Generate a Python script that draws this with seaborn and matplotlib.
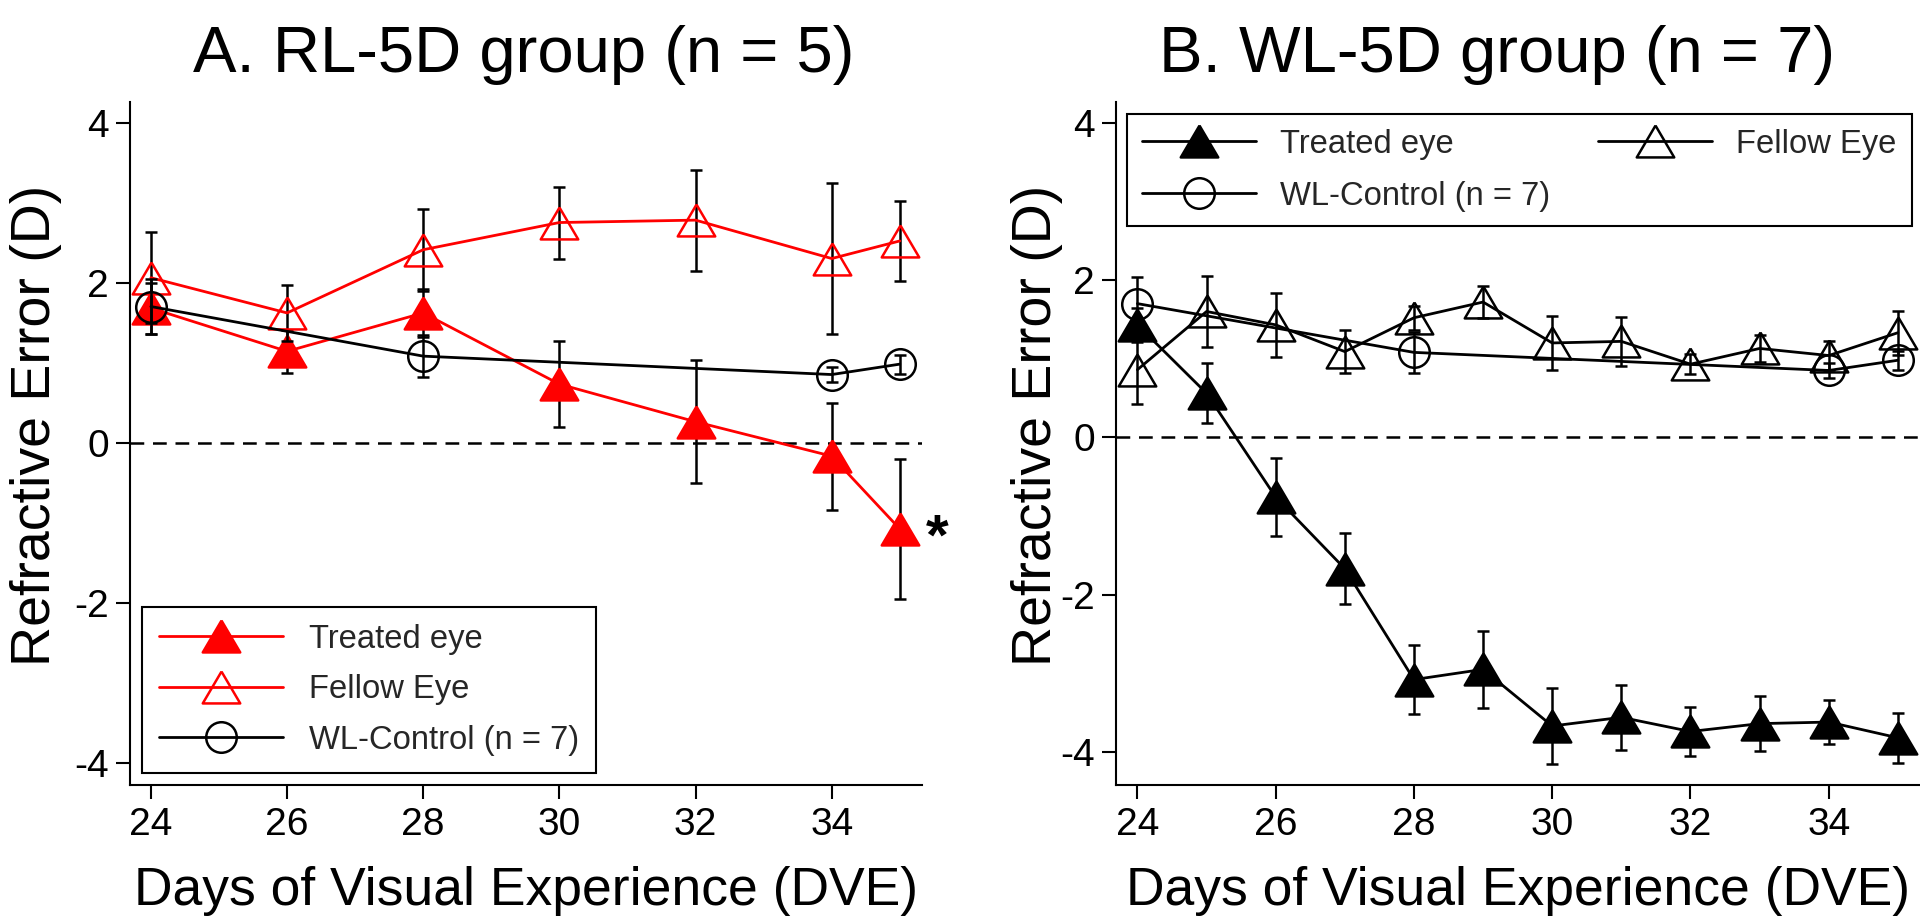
import numpy as np
import pandas as pd
import matplotlib
matplotlib.use("Agg")
import matplotlib.pyplot as plt
from matplotlib.lines import Line2D
import seaborn as sns

# ---------------- data ----------------
days_A = [24, 26, 28, 30, 32, 34, 35]
treated_A = [1.68, 1.14, 1.62, 0.73, 0.26, -0.17, -1.08]
treated_A_err = [0.32, 0.27, 0.30, 0.54, 0.77, 0.67, 0.87]
fellow_A = [2.06, 1.62, 2.41, 2.75, 2.78, 2.30, 2.52]
fellow_A_err = [0.57, 0.35, 0.51, 0.45, 0.63, 0.94, 0.50]

days_ctrl = [24, 28, 34, 35]
ctrl = [1.70, 1.08, 0.85, 0.98]
ctrl_err = [0.34, 0.26, 0.09, 0.12]

days_B = [24, 25, 26, 27, 28, 29, 30, 31, 32, 33, 34, 35]
treated_B = [1.43, 0.56, -0.76, -1.67, -3.08, -2.95, -3.67, -3.56, -3.74, -3.64, -3.62, -3.82]
treated_B_err = [0.22, 0.38, 0.50, 0.45, 0.44, 0.49, 0.48, 0.41, 0.31, 0.35, 0.28, 0.32]
fellow_B = [0.86, 1.60, 1.43, 1.09, 1.52, 1.72, 1.20, 1.22, 0.93, 1.13, 1.04, 1.33]
fellow_B_err = [0.44, 0.45, 0.41, 0.27, 0.15, 0.20, 0.34, 0.31, 0.13, 0.17, 0.18, 0.28]

x_ticks = [24, 26, 28, 30, 32, 34]
y_ticks = [-4, -2, 0, 2, 4]
title_A = "A. RL-5D group (n = 5)"
title_B = "B. WL-5D group (n = 7)"
xlabel = "Days of Visual Experience (DVE)"
ylabel = "Refractive Error (D)"
lab_treated = "Treated eye"
lab_fellow = "Fellow Eye"
lab_ctrl = "WL-Control (n = 7)"

# ---------------- style ----------------
sns.set_style("ticks")
plt.rcParams["font.family"] = ["Liberation Sans", "DejaVu Sans"]
plt.rcParams["axes.unicode_minus"] = False

RED = "#ff0000"
BLK = "#000000"
TRI = [(0, 0.85), (-1, -0.85), (1, -0.85), (0, 0.85)]
MS_T = 27
MS_C = 22
LW = 2.0
MEW = 1.8

fig = plt.figure(figsize=(19.2, 9.18), dpi=100)
axA = fig.add_axes([0.0676, 0.1449, 0.4124, 0.7443])
axB = fig.add_axes([0.58125, 0.1449, 0.41875, 0.7443])


def series(ax, x, y, err, color, filled, marker, ms, z):
    ax.errorbar(x, y, yerr=err, fmt="none", ecolor=BLK, elinewidth=1.8,
                capsize=4.3, capthick=1.8, zorder=z - 0.5)
    df = pd.DataFrame({"x": x, "y": y})
    sns.lineplot(data=df, x="x", y="y", ax=ax, color=color, linewidth=LW,
                 marker=marker, markersize=ms, markeredgewidth=MEW,
                 markeredgecolor=color,
                 markerfacecolor=color if filled else "none",
                 legend=False, zorder=z)


def handle(color, filled, marker, ms):
    return Line2D([], [], color=color, linewidth=LW, marker=marker, markersize=ms,
                  markeredgewidth=MEW, markeredgecolor=color,
                  markerfacecolor=color if filled else "none")


for ax in (axA, axB):
    ax.axhline(0, color=BLK, linewidth=1.8, linestyle=(0, (5.5, 3.5)), zorder=1)

# Panel A
series(axA, days_A, treated_A, treated_A_err, RED, True, TRI, MS_T, 3)
series(axA, days_A, fellow_A, fellow_A_err, RED, False, TRI, MS_T, 4)
series(axA, days_ctrl, ctrl, ctrl_err, BLK, False, "o", MS_C, 5)

# Panel B
series(axB, days_ctrl, ctrl, ctrl_err, BLK, False, "o", MS_C, 3)
series(axB, days_B, fellow_B, fellow_B_err, BLK, False, TRI, MS_T, 4)
series(axB, days_B, treated_B, treated_B_err, BLK, True, TRI, MS_T, 5)

axA.text(35.38, -1.40, "*", fontsize=42, fontweight="bold", ha="left",
         va="baseline", color=BLK, clip_on=False)

axA.set_ylim(-4.28, 4.26)
axB.set_ylim(-4.42, 4.267)
for ax in (axA, axB):
    ax.set_xlim(23.69, 35.32)
    ax.set_xticks(x_ticks)
    ax.set_yticks(y_ticks)
    ax.tick_params(axis="both", direction="out", length=10, width=1.5,
                   labelsize=28, color=BLK, labelcolor=BLK)
    ax.tick_params(axis="x", pad=6)
    ax.tick_params(axis="y", pad=5)
    for s in ("top", "right"):
        ax.spines[s].set_visible(False)
    for s in ("left", "bottom"):
        ax.spines[s].set_linewidth(1.5)
        ax.spines[s].set_color(BLK)
    ax.set_xlabel(xlabel, fontsize=38.5, color=BLK)
    ax.set_ylabel(ylabel, fontsize=40, color=BLK)
    ax.xaxis.set_label_coords(0.5, -0.118)
    ax.xaxis.label.set_va("top")
    ax.grid(False)

axA.yaxis.set_label_coords(-0.086, 0.526)
axB.yaxis.set_label_coords(-0.066, 0.526)

axA.text(0.497, 1.068, title_A, transform=axA.transAxes, ha="center", va="center",
         fontsize=47, color=BLK)
axB.text(0.474, 1.068, title_B, transform=axB.transAxes, ha="center", va="center",
         fontsize=47, color=BLK)

hA = [handle(RED, True, TRI, MS_T), handle(RED, False, TRI, MS_T), handle(BLK, False, "o", MS_C)]
legA = axA.legend(hA, [lab_treated, lab_fellow, lab_ctrl], loc="lower left",
                  bbox_to_anchor=(0.0149, 0.0176), borderaxespad=0, fontsize=23.6,
                  handlelength=3.78, handletextpad=0.8, labelspacing=0.6,
                  borderpad=0.52, frameon=True, fancybox=False)
legA.get_frame().set_edgecolor(BLK)
legA.get_frame().set_linewidth(1.5)
legA.get_frame().set_alpha(1)

hB = [handle(BLK, True, TRI, MS_T), handle(BLK, False, "o", MS_C), handle(BLK, False, TRI, MS_T)]
legB = axB.legend(hB, [lab_treated, lab_ctrl, lab_fellow], loc="upper left", ncol=2,
                  bbox_to_anchor=(0.0137, 0.982), borderaxespad=0, fontsize=23.6,
                  handlelength=3.48, handletextpad=0.75, labelspacing=0.64,
                  columnspacing=1.44, borderpad=0.45, frameon=True, fancybox=False)
legB.get_frame().set_edgecolor(BLK)
legB.get_frame().set_linewidth(1.5)
legB.get_frame().set_alpha(1)

fig.savefig("out.png", dpi=100, facecolor="white")
